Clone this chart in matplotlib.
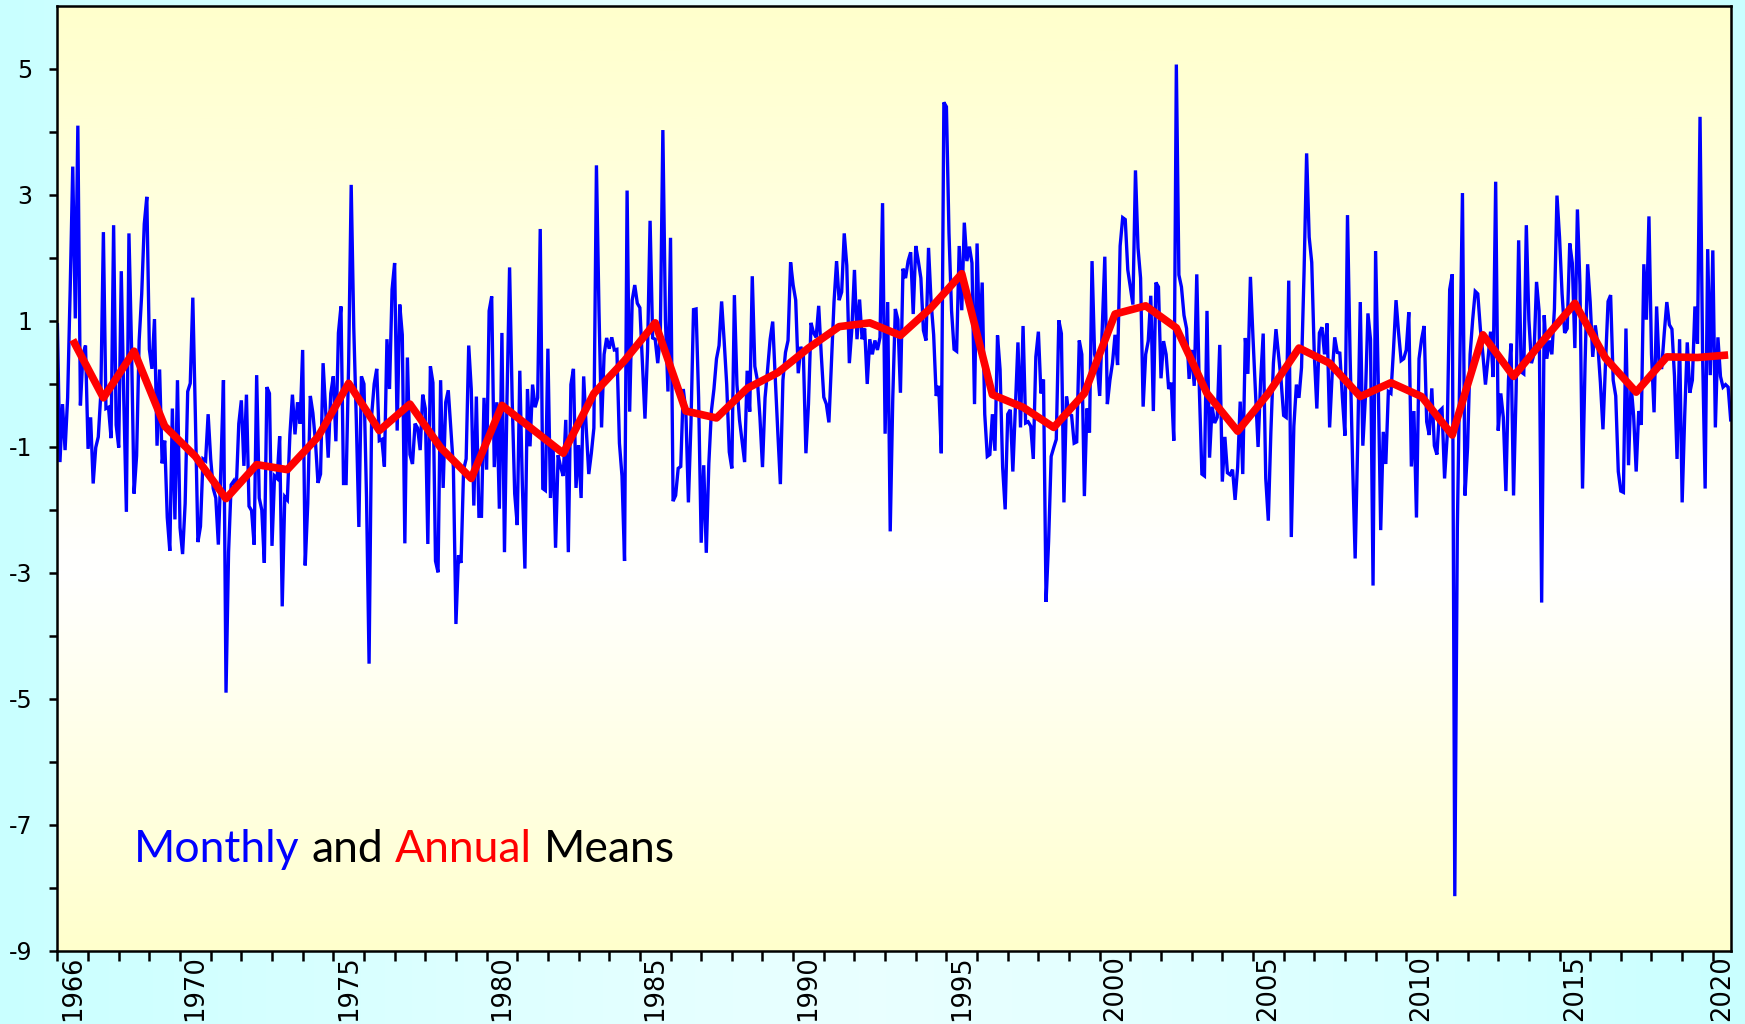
import numpy as np
import matplotlib
matplotlib.use("Agg")
import matplotlib.pyplot as plt
from matplotlib.colors import LinearSegmentedColormap

plt.rcParams['axes.unicode_minus'] = False

start_year = 1966
# monthly means, one row per year (Jan..Dec), last year partial
monthly_rows = [
    [0.94, -1.24, -0.32, -1.05, -0.22, 1.5, 3.45, 1.04, 4.10, -0.34, 0.47, 0.61],
    [-1.03, -0.53, -1.58, -1.01, -0.84, -0.15, 2.41, -0.39, -0.37, -0.86, 2.52, -0.65],
    [-1.01, 1.79, -0.28, -2.03, 2.39, 0.61, -1.74, -1.14, 0.69, 1.43, 2.54, 2.97],
    [0.55, 0.24, 1.03, -0.98, 0.23, -1.26, -0.9, -2.12, -2.65, -0.39, -2.15, 0.06],
    [-2.28, -2.70, -1.9, -0.12, 0.01, 1.37, -0.5, -2.51, -2.26, -1.19, -1.22, -0.48],
    [-1.19, -1.66, -1.81, -2.55, -1.32, 0.06, -4.90, -2.67, -1.60, -1.54, -1.68, -0.63],
    [-0.26, -1.3, -0.17, -1.94, -2.01, -2.55, 0.14, -1.81, -2.0, -2.84, -0.05, -0.15],
    [-2.57, -1.46, -1.5, -0.83, -3.53, -1.79, -1.84, -0.81, -0.17, -0.8, -0.29, -0.63],
    [0.54, -2.88, -1.9, -0.19, -0.46, -0.91, -1.57, -1.43, 0.33, -0.43, -1.17, -0.15],
    [0.12, -0.91, 0.81, 1.23, -1.58, -1.58, 0.33, 3.16, 0.9, -0.57, -2.27, 0.12],
    [0.0, -1.8, -4.44, -0.5, 0.0, 0.24, -0.90, -0.88, -1.31, 0.71, -0.08, 1.5],
    [1.92, -0.74, 1.26, 0.78, -2.53, 0.42, -1.12, -1.27, -0.63, -0.70, -1.05, -0.17],
    [-0.39, -2.54, 0.28, 0.02, -2.81, -2.99, 0.06, -1.65, -0.29, -0.10, -0.70, -1.32],
    [-3.81, -2.72, -2.84, -1.36, -1.19, 0.61, -0.08, -1.93, -0.20, -2.10, -2.10, -0.22],
    [-1.36, 1.16, 1.39, -1.32, -0.29, -1.98, 0.81, -2.67, -0.22, 1.85, -0.22, -1.74],
    [-2.24, 0.21, -1.60, -2.93, -0.08, -0.99, -0.01, -0.37, -0.22, 2.46, -1.66, -1.69],
    [0.56, -1.81, -0.93, -2.60, -1.13, -1.32, -1.46, -0.57, -2.67, -0.01, 0.24, -1.65],
    [-0.97, -1.81, 0.12, -0.70, -1.43, -1.10, -0.70, 3.47, 1.16, -0.69, 0.47, 0.73],
    [0.56, 0.74, 0.54, 0.55, -0.94, -1.46, -2.81, 3.07, -0.44, 1.33, 1.57, 1.28],
    [1.21, 0.33, -0.55, 0.52, 2.59, 0.73, 0.71, 0.33, 0.78, 4.03, 1.02, -0.12],
    [2.32, -1.86, -1.77, -1.34, -1.31, -0.08, -0.43, -1.88, -0.63, 1.18, 1.19, -0.22],
    [-2.52, -1.29, -2.68, -1.26, -0.43, -0.08, 0.40, 0.61, 1.31, 0.68, -0.01, -1.08],
    [-1.34, 1.41, -0.01, -0.57, -0.91, -1.24, 0.21, -0.44, 1.71, 0.28, 0.06, -0.53],
    [-1.32, -0.22, 0.23, 0.71, 0.99, 0.09, -0.77, -1.59, 0.06, 0.50, 0.69, 1.93],
    [1.57, 1.33, 0.17, 0.59, 0.47, -1.10, -0.32, 0.97, 0.81, 0.74, 1.24, 0.47],
    [-0.21, -0.32, -0.61, 0.33, 1.30, 1.95, 1.33, 1.46, 2.39, 1.88, 0.33, 0.88],
    [1.81, 0.71, 1.34, 0.71, 0.88, 0.0, 0.71, 0.47, 0.69, 0.54, 0.74, 2.87],
    [-0.79, 1.30, -2.34, -0.22, 1.19, 1.02, -0.14, 1.83, 1.68, 1.95, 2.09, 1.11],
    [2.19, 1.95, 1.68, 0.85, 0.69, 2.16, 1.30, 0.78, -0.19, -0.03, -1.10, 4.47],
    [4.40, 2.40, 1.17, 0.55, 0.52, 2.19, 1.17, 2.56, 1.95, 2.18, 1.92, -0.32],
    [2.23, 0.61, 1.61, -0.48, -1.15, -1.12, -0.48, -1.06, 0.77, 0.23, -1.32, -1.99],
    [-0.48, -0.41, -1.39, -0.36, 0.66, -0.69, 0.92, -0.62, -0.60, -0.67, -1.19, 0.43],
    [0.83, -0.15, 0.07, -3.46, -2.50, -1.15, -1.01, -0.88, 1.01, 0.80, -1.88, -0.20],
    [-0.48, -0.50, -0.94, -0.92, 0.69, 0.47, -1.78, -0.39, -0.77, 1.95, 0.47, 0.30],
    [-0.19, 0.88, 2.02, -0.32, 0.06, 0.33, 0.78, 0.30, 2.19, 2.64, 2.61, 1.81],
    [1.54, 1.26, 3.39, 2.16, 1.68, -0.36, 0.47, 0.68, 1.40, -0.43, 1.61, 1.54],
    [0.09, 0.68, 0.47, -0.08, 0.02, -0.90, 5.07, 1.73, 1.54, 1.09, 0.88, 0.08],
    [0.54, -0.03, 1.74, -0.08, -1.43, -1.46, 1.16, -1.17, -0.36, -0.62, -0.53, 0.62],
    [-1.55, -0.84, -1.41, -1.44, -1.36, -1.84, -1.32, -0.28, -1.43, 0.73, 0.16, 1.70],
    [0.74, -0.15, -1.00, 0.06, 0.80, -1.50, -2.17, -0.77, 0.33, 0.87, 0.47, 0.06],
    [-0.50, -0.53, 1.64, -2.43, -0.67, -0.01, -0.22, 0.26, 1.78, 3.66, 2.33, 1.93],
    [0.47, -0.39, 0.81, 0.90, 0.47, 0.96, -0.69, 0.16, 0.74, 0.50, 0.49, -0.22],
    [-0.82, 2.68, 0.47, -1.26, -2.77, -0.91, 1.30, -0.98, -0.22, 1.12, 0.71, -3.20],
    [2.11, 0.12, -2.32, -0.76, -1.27, -0.12, -0.15, 0.54, 1.33, 0.81, 0.37, 0.40],
    [0.54, 1.14, -1.31, -0.43, -2.12, 0.40, 0.71, 0.92, -0.60, -0.81, -0.07, -0.98],
    [-1.12, -0.43, -0.39, -1.50, -0.84, 1.50, 1.74, -8.13, -2.29, 0.40, 3.03, -1.77],
    [-1.01, 0.47, 1.02, 1.47, 1.43, 0.88, 0.47, -0.01, 0.40, 0.83, 0.11, 3.21],
    [-0.74, -0.15, -0.53, -1.70, 0.06, 0.64, -1.77, -0.12, 2.28, 0.19, 0.16, 2.52],
    [1.02, 0.33, 0.47, 1.62, 1.16, -3.47, 1.09, 0.40, 0.69, 0.47, 1.19, 2.99],
    [2.33, 1.43, 0.81, 0.88, 2.23, 1.92, 0.57, 2.77, 1.57, -1.66, 0.33, 1.90],
    [1.30, 0.43, 0.93, 0.61, 0.02, -0.72, 0.33, 1.31, 1.41, 0.06, -0.19, -1.39],
    [-1.70, -1.72, 0.88, -1.29, -0.01, -0.50, -1.39, -0.43, -0.65, 1.90, 1.02, 2.66],
    [0.47, -0.45, 1.23, 0.26, 0.26, 0.81, 1.30, 0.94, 0.87, 0.12, -1.19, 0.71],
    [-1.88, -0.50, 0.66, -0.14, 0.06, 1.23, 0.64, 4.24, 0.47, -1.66, 2.14, 0.14],
    [2.12, -0.69, 0.74, 0.12, -0.05, -0.01, -0.05, -0.57],
]

annual_years = list(range(1966, 2021))
annual_means = [0.70, -0.22, 0.52, -0.67, -1.15, -1.82, -1.28, -1.36, -0.84, 0.01,
                -0.74, -0.32, -1.01, -1.50, -0.34, -0.72, -1.10, -0.15, 0.37, 0.97,
                -0.43, -0.54, -0.07, 0.18, 0.57, 0.91, 0.97, 0.77, 1.21, 1.75,
                -0.17, -0.37, -0.69, -0.15, 1.11, 1.24, 0.89, -0.15, -0.75, -0.15,
                0.57, 0.33, -0.20, 0.02, -0.20, -0.81, 0.78, 0.12, 0.71, 1.28,
                0.41, -0.13, 0.43, 0.42, 0.46]

xtick_years = [1966, 1970, 1975, 1980, 1985, 1990, 1995, 2000, 2005, 2010, 2015, 2020]
ytick_values = list(range(-9, 6))
legend_parts = [("Monthly", "#0000FF"), ("and", "#000000"),
                ("Annual", "#FF0000"), ("Means", "#000000")]

monthly = [v for row in monthly_rows for v in row]
t_month = start_year + np.arange(len(monthly)) / 12.0
x_max = t_month[-1]

fig = plt.figure(figsize=(17.45, 10.24), dpi=100)

# figure background: horizontal cyan gradient
bg = fig.add_axes([0, 0, 1, 1], zorder=-10)
bg.axis('off')
g = np.abs(np.linspace(-1, 1, 512)) ** 1.3
bg_cmap = LinearSegmentedColormap.from_list('bg', ['#E9FFFF', '#C9FFFF'])
bg.imshow(g[None, :], aspect='auto', cmap=bg_cmap, extent=[0, 1, 0, 1], vmin=0, vmax=1)
bg.set_xlim(0, 1); bg.set_ylim(0, 1)

ax = fig.add_axes([0.0329, 0.0713, 0.9589, 0.9229])
ax.set_facecolor('none')

# plot-area vertical gradient: yellow at top/bottom, white lower-middle
tt = np.linspace(0, 1, 512)
c = 0.6
w = np.where(tt < c, (c - tt) / c, (tt - c) / (1 - c))
area_cmap = LinearSegmentedColormap.from_list('area', ['#FFFFFF', '#FFFFCC'])
ax.imshow(w[:, None], aspect='auto', cmap=area_cmap, origin='upper',
          extent=[start_year, x_max, -9, 6], vmin=0, vmax=1, zorder=0)

ax.plot(t_month, monthly, color='#0000FF', lw=2.4, zorder=3, solid_joinstyle='miter')
ax.plot(np.array(annual_years) + 0.5, annual_means, color='#FF0000', lw=5.5,
        zorder=4, solid_joinstyle='round', solid_capstyle='butt')

ax.set_xlim(start_year, x_max)
ax.set_ylim(-9, 6)

for s in ax.spines.values():
    s.set_linewidth(1.8)
    s.set_color('black')
    s.set_zorder(6)

# y ticks
ax.set_yticks(ytick_values)
ax.set_yticklabels([str(v) if v % 2 else '' for v in ytick_values])
ax.tick_params(axis='y', which='major', direction='out', length=6, width=1.8,
               pad=12, labelsize=17)

# x ticks: every year boundary; labels centred in their year interval
ax.set_xticks(list(range(1966, 2021)))
ax.set_xticklabels([])
ax.tick_params(axis='x', which='major', direction='out', length=7, width=1.8)
label_pos = [y + 0.5 if y < 2020 else (2020 + x_max) / 2 for y in xtick_years]
ax.set_xticks(label_pos, minor=True)
ax.set_xticklabels([str(y) for y in xtick_years], minor=True, rotation=90)
ax.tick_params(axis='x', which='minor', length=0, pad=3, labelsize=18.5)

# coloured caption
fs = 32
txt = ax.text(0.0458, -7.58, legend_parts[0][0], color=legend_parts[0][1],
              fontsize=fs, family='Lato', va='baseline', ha='left', zorder=7,
              transform=ax.get_yaxis_transform())
prev = txt
for word, col in legend_parts[1:]:
    prev = ax.annotate(word, xy=(1, 0), xycoords=prev, xytext=(8.5, 0),
                       textcoords='offset points', va='bottom', ha='left',
                       color=col, fontsize=fs, family='Lato', zorder=7)

fig.savefig('out.png', dpi=100)
